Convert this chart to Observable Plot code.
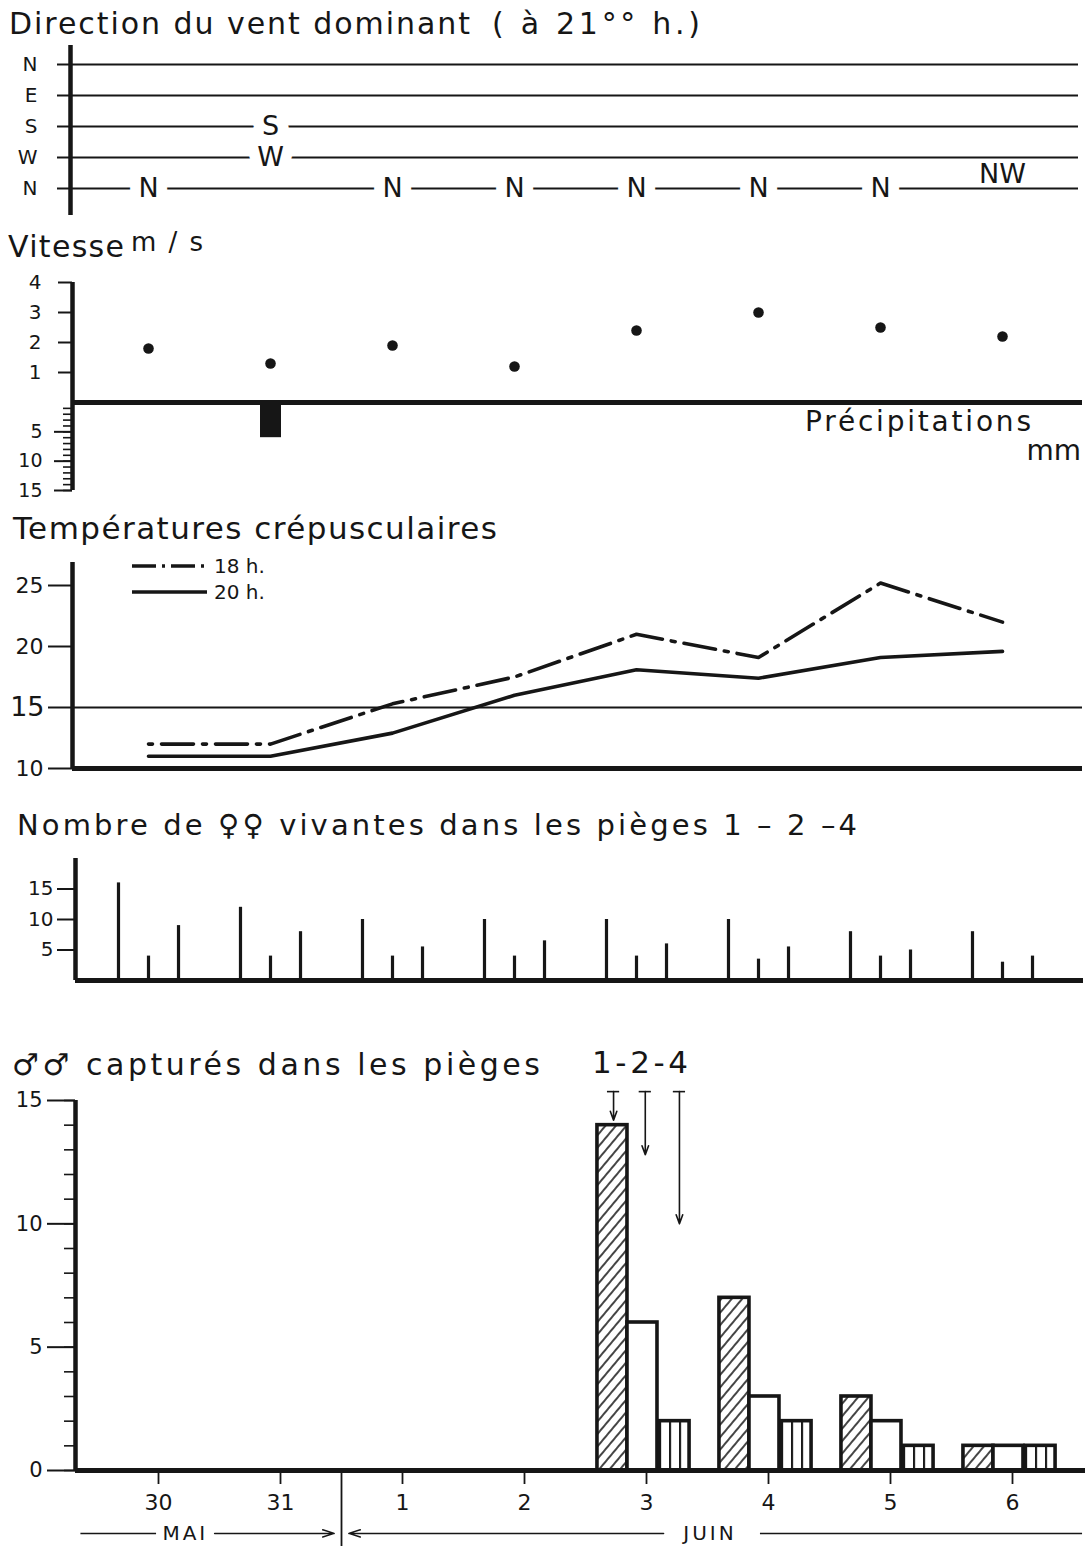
<!DOCTYPE html>
<html lang="fr">
<head>
<meta charset="utf-8">
<title>Vent, températures et captures</title>
<script src="https://cdn.jsdelivr.net/npm/d3@7"></script>
<script src="https://cdn.jsdelivr.net/npm/@observablehq/plot@0.6"></script>
<style>
  html, body { margin: 0; padding: 0; background: #fff; }
  #root { position: relative; width: 1089px; height: 1546px; overflow: hidden; background: #fff; }
</style>
</head>
<body>
<div id="root"></div>
<script>
// ---------------- data ----------------
const days = ["30", "31", "1", "2", "3", "4", "5", "6"];
const months = ["MAI", "JUIN"];
const compassTicks = ["N", "W", "S", "E", "N"];          // bottom to top
const compassLevel = { N: 0, NW: 0.5, W: 1, S: 2, E: 3 };
const windDirection = [["N"], ["S", "W"], ["N"], ["N"], ["N"], ["N"], ["N"], ["NW"]];
const windSpeed = [1.8, 1.3, 1.9, 1.2, 2.4, 3.0, 2.5, 2.2];      // m/s
const precipitation = [0, 6, 0, 0, 0, 0, 0, 0];                   // mm
const temp18h = [12, 12, 15.3, 17.5, 21, 19.1, 25.2, 22];
const temp20h = [11, 11, 12.9, 16, 18.1, 17.4, 19.1, 19.6];
const traps = ["1", "2", "4"];
const femalesTrap1 = [16, 12, 10, 10, 10, 10, 8, 8];
const femalesTrap2 = [4, 4, 4, 4, 4, 3.5, 4, 3];
const femalesTrap4 = [9, 8, 5.5, 6.5, 6, 5.5, 5, 4];
const malesTrap1 = [0, 0, 0, 0, 14, 7, 3, 1];
const malesTrap2 = [0, 0, 0, 0, 6, 3, 2, 1];
const malesTrap4 = [0, 0, 0, 0, 2, 2, 1, 1];
const speedTicks = [1, 2, 3, 4];
const precipTicks = [5, 10, 15];
const tempTicks = [10, 20, 25];
const tempRefTick = [15];
const femaleTicks = [5, 10, 15];
const maleTicks = [0, 5, 10, 15];
const arrowTips = [14.2, 12.8, 10.0];   // trap arrows (annotation), in counts

// ---------------- tables ----------------
const windRows = windDirection.flatMap((dirs, i) => dirs.map(dir => ({ i, dir, level: compassLevel[dir] })));
const speedRows = windSpeed.map((v, i) => ({ i, v }));
const precipRows = precipitation.map((mm, i) => ({ i, mm })).filter(d => d.mm > 0);
const t18Rows = temp18h.map((t, i) => ({ i, t }));
const t20Rows = temp20h.map((t, i) => ({ i, t }));
const femaleSeries = [femalesTrap1, femalesTrap2, femalesTrap4];
const maleSeries = [malesTrap1, malesTrap2, malesTrap4];
const femaleRows = femaleSeries.flatMap((s, k) => s.map((n, i) => ({ i, k, trap: traps[k], n })));
const maleRows = maleSeries.flatMap((s, k) => s.map((n, i) => ({ i, k, trap: traps[k], n }))).filter(d => d.n > 0);

// ---------------- layout ----------------
const W = 1089, H = 1546, PX = 122;
const INK = "#161616";
const FONT = "'DejaVu Sans', 'Liberation Sans', sans-serif";
const root = document.getElementById("root");
const intFmt = d3.format("d");

function frameX(axisX, x0, right, hideAxis = true) {
  const d0 = (axisX - x0) / PX, d1 = (right - x0) / PX;
  const x = { domain: [d0, d1] };
  if (hideAxis) x.axis = null;
  return { d0, opts: { marginLeft: axisX, marginRight: W - right, x } };
}
function addPanel(top, options) {
  const svg = Plot.plot({
    width: W,
    style: { fontFamily: FONT, color: INK, background: "transparent", overflow: "visible" },
    ...options
  });
  svg.style.position = "absolute";
  svg.style.left = "0px";
  svg.style.top = top + "px";
  root.appendChild(svg);
  return svg;
}

// 1. Direction du vent
const wind = frameX(70, 148, 1078);
addPanel(40, {
  ...wind.opts, height: 180, marginTop: 5, marginBottom: 5,
  y: { domain: [-27 / 31, 4 + 19 / 31], label: null },
  marks: [
    Plot.ruleY(d3.range(compassTicks.length), { stroke: INK, strokeWidth: 2 }),
    Plot.axisY({ ticks: d3.range(compassTicks.length), tickFormat: k => compassTicks[k], tickSize: 13, tickPadding: 20, fontSize: 20, strokeWidth: 2, label: null }),
    Plot.ruleX([wind.d0], { stroke: INK, strokeWidth: 4.5 }),
    Plot.text(windRows.filter(d => d.dir !== "NW"), { x: "i", y: "level", text: "dir", fontSize: 27, fill: INK, stroke: "white", strokeWidth: 22, paintOrder: "stroke", strokeLinejoin: "round" }),
    Plot.text(windRows.filter(d => d.dir === "NW"), { x: "i", y: "level", text: "dir", fontSize: 27, fill: INK, dy: 1 })
  ]
});

// 2. Vitesse
const vit = frameX(72, 148, 1082);
addPanel(270, {
  ...vit.opts, height: 134, marginTop: 12, marginBottom: 2,
  y: { domain: [0, 4], label: null },
  marks: [
    Plot.axisY({ ticks: speedTicks, tickFormat: intFmt, tickSize: 14, tickPadding: 17, fontSize: 20, strokeWidth: 2, label: null }),
    Plot.ruleX([vit.d0], { stroke: INK, strokeWidth: 4.5 }),
    Plot.ruleY([0], { stroke: INK, strokeWidth: 5 }),
    Plot.dot(speedRows, { x: "i", y: "v", r: 5.3, fill: INK })
  ]
});

// 2b. Précipitations
addPanel(400, {
  ...vit.opts, height: 100, marginTop: 2, marginBottom: 10,
  y: { domain: [0, 15], reverse: true, label: null },
  marks: [
    Plot.axisY({ ticks: d3.range(1, 16), tickSize: 9, tickFormat: () => "", strokeWidth: 1.6, label: null }),
    Plot.axisY({ ticks: precipTicks, tickFormat: intFmt, tickSize: 18, tickPadding: 12, fontSize: 19, strokeWidth: 2, label: null }),
    Plot.ruleX([vit.d0], { stroke: INK, strokeWidth: 4.5 }),
    Plot.ruleX(precipRows, { x: "i", y1: 0, y2: "mm", stroke: INK, strokeWidth: 21 })
  ]
});

// 3. Températures
const tmp = frameX(72, 148, 1082);
addPanel(555, {
  ...tmp.opts, height: 220, marginTop: 7, marginBottom: 7,
  y: { domain: [10, 10 + 206 / 12.2], label: null },
  marks: [
    Plot.ruleY(tempRefTick, { stroke: INK, strokeWidth: 2.2 }),
    Plot.ruleY([10], { stroke: INK, strokeWidth: 5 }),
    Plot.axisY({ ticks: tempTicks, tickFormat: intFmt, tickSize: 24, tickPadding: 5, fontSize: 22, strokeWidth: 2, label: null }),
    Plot.axisY({ ticks: tempRefTick, tickFormat: intFmt, tickSize: 24, tickPadding: 4, fontSize: 27, strokeWidth: 2, label: null }),
    Plot.ruleX([tmp.d0], { stroke: INK, strokeWidth: 4.5 }),
    Plot.line(t18Rows, { x: "i", y: "t", stroke: INK, strokeWidth: 3.6, strokeDasharray: "4,9,32,9" }),
    Plot.line(t20Rows, { x: "i", y: "t", stroke: INK, strokeWidth: 3.6 })
  ]
});

// 4. Femelles vivantes
const fem = frameX(75, 148, 1083);
const femaleOffset = [-0.246, 0, 0.246];
addPanel(853, {
  ...fem.opts, height: 132, marginTop: 5, marginBottom: 5,
  y: { domain: [0, 20], label: null },
  marks: [
    Plot.axisY({ ticks: femaleTicks, tickFormat: intFmt, tickSize: 18, tickPadding: 4, fontSize: 20, strokeWidth: 2, label: null }),
    Plot.ruleX([fem.d0], { stroke: INK, strokeWidth: 4.5 }),
    Plot.ruleY([0], { stroke: INK, strokeWidth: 5 }),
    Plot.ruleX(femaleRows, { x: d => d.i + femaleOffset[d.k], y1: 0, y2: "n", stroke: INK, strokeWidth: 3.2 })
  ]
});

// 5. Mâles capturés
const mal = frameX(75, 158, 1085, false);
const barCenter = [-0.279, -0.033, 0.23], barHalf = 0.123;
const barFill = ["url(#hatch)", "white", "url(#vstripes)"];
const arrowOffset = [-0.27, -0.01, 0.27];
const arrowDay = days.indexOf("3");
const arrowTop = 15.36;
const monthBreak = days.indexOf("1") - 0.5;
const monthY = -2.55;
const monthLines = [
  { x1: -0.64, x2: -0.02 },
  { x1: 4.93, x2: 7.57 }
];
const monthArrows = [
  { x1: 0.46, x2: monthBreak - 0.06 },
  { x1: 4.14, x2: monthBreak + 0.06 }
];
const monthAt = [0.22, 4.52];

const maleSvg = addPanel(1085, {
  ...mal.opts, height: 461, marginTop: 15, marginBottom: 76,
  y: { domain: [0, 15], label: null },
  marks: [
    Plot.axisY({ ticks: d3.range(0, 16), tickSize: 11, tickFormat: () => "", strokeWidth: 1.6, label: null }),
    Plot.axisY({ ticks: maleTicks, tickFormat: intFmt, tickSize: 28, tickPadding: 5, fontSize: 21, strokeWidth: 2, label: null }),
    Plot.axisX({ ticks: d3.range(days.length), tickFormat: i => days[i], tickSize: 14, tickPadding: 10, fontSize: 22, strokeWidth: 1.8, label: null }),
    Plot.axisX({ ticks: [monthBreak], tickSize: 76, tickFormat: () => "", strokeWidth: 1.8, label: null }),
    Plot.ruleX([mal.d0], { stroke: INK, strokeWidth: 4.5 }),
    ...traps.map((t, k) => Plot.rect(maleRows.filter(d => d.k === k), {
      x1: d => d.i + barCenter[k] - barHalf, x2: d => d.i + barCenter[k] + barHalf,
      y1: 0, y2: "n", fill: barFill[k], stroke: INK, strokeWidth: 3.6
    })),
    Plot.ruleY([0], { stroke: INK, strokeWidth: 5 }),
    Plot.arrow(traps, { x1: (t, k) => arrowDay + arrowOffset[k], x2: (t, k) => arrowDay + arrowOffset[k], y1: arrowTop, y2: (t, k) => arrowTips[k], stroke: INK, strokeWidth: 1.6, headLength: 9, headAngle: 40 }),
    Plot.ruleY(traps, { y: arrowTop, x1: (t, k) => arrowDay + arrowOffset[k] - 0.05, x2: (t, k) => arrowDay + arrowOffset[k] + 0.05, stroke: INK, strokeWidth: 1.6 }),
    Plot.link(monthLines, { x1: "x1", x2: "x2", y1: monthY, y2: monthY, stroke: INK, strokeWidth: 1.5 }),
    Plot.arrow(monthArrows, { x1: "x1", x2: "x2", y1: monthY, y2: monthY, stroke: INK, strokeWidth: 1.5, headLength: 12, headAngle: 35 }),
    Plot.text(months, { x: (m, k) => monthAt[k], y: monthY, text: d => d, fontSize: 20, fill: INK })
  ]
});

// patterns for bars
const defs = d3.select(maleSvg).insert("defs", ":first-child");
const hatch = defs.append("pattern").attr("id", "hatch").attr("patternUnits", "userSpaceOnUse")
  .attr("width", 8).attr("height", 8).attr("patternTransform", "rotate(40)");
hatch.append("rect").attr("width", 8).attr("height", 8).attr("fill", "white");
hatch.append("line").attr("x1", 2).attr("y1", 0).attr("x2", 2).attr("y2", 8).attr("stroke", INK).attr("stroke-width", 1.6);
const vs = defs.append("pattern").attr("id", "vstripes").attr("patternUnits", "objectBoundingBox")
  .attr("width", 1 / 3).attr("height", 1);
vs.append("rect").attr("width", 200).attr("height", 2000).attr("fill", "white");
vs.append("line").attr("x1", 1).attr("y1", 0).attr("x2", 1).attr("y2", 2000).attr("stroke", INK).attr("stroke-width", 2);
d3.select(maleSvg).selectAll("text").filter(function () { return months.includes(this.textContent); }).attr("letter-spacing", 3);

// ---------------- titles, legend and free text ----------------
const overlay = d3.select(root).append("svg")
  .attr("width", W).attr("height", H)
  .style("position", "absolute").style("left", "0px").style("top", "0px").style("pointer-events", "none")
  .attr("font-family", FONT).attr("fill", INK);
function label(str, x, y, size, length) {
  const t = overlay.append("text").attr("x", x).attr("y", y).attr("font-size", size)
    .style("white-space", "pre").text(str);
  if (length) t.attr("textLength", length).attr("lengthAdjust", "spacing");
  return t;
}
label("Direction du vent dominant", 9, 34, 30, 461);
label("( à 21°° h.)", 492, 34, 30, 208);
label("Vitesse", 8, 257, 30, 116);
label("m/s", 131, 251, 26, 72);
label("Précipitations", 805, 431, 28, 226);
label("mm", 1081, 460, 28).attr("text-anchor", "end");
label("Températures crépusculaires", 13, 539, 31, 484);
label("Nombre de ♀♀ vivantes dans les pièges 1 – 2 –4", 17, 835, 29, 840);
label("♂♂ capturés dans les pièges", 12, 1075, 30, 528);
label("1-2-4", 592, 1073, 31, 96);

// temperature legend
overlay.append("line").attr("x1", 132).attr("x2", 207).attr("y1", 566).attr("y2", 566)
  .attr("stroke", INK).attr("stroke-width", 3.4).attr("stroke-dasharray", "24,6,3,6");
label("18 h.", 214, 573, 20);
overlay.append("line").attr("x1", 132).attr("x2", 207).attr("y1", 592).attr("y2", 592)
  .attr("stroke", INK).attr("stroke-width", 3.4);
label("20 h.", 214, 599, 20);
</script>
</body>
</html>
